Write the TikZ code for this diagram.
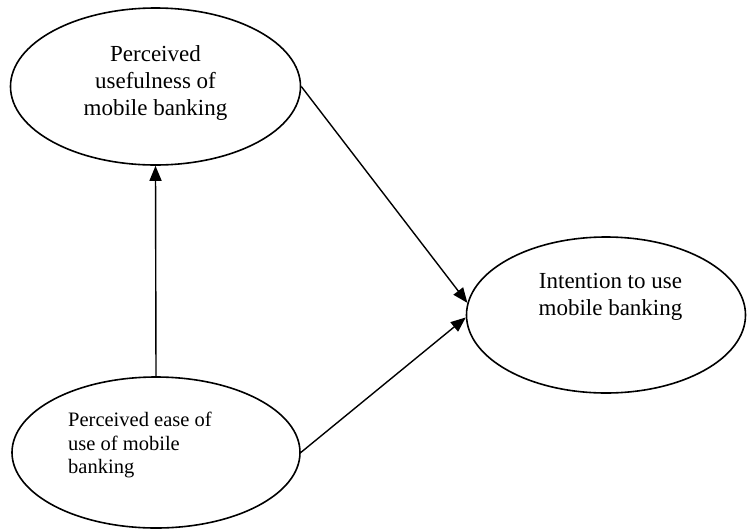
\documentclass[tikz,border=0pt]{standalone}
\usepackage{fontspec}
\setmainfont{Liberation Serif}
\usetikzlibrary{shapes.geometric,arrows.meta}
\begin{document}
\begin{tikzpicture}[x=1pt,y=-1pt,
  construct/.style={draw, ellipse, line width=1.6pt, inner sep=0pt},
  bigtext/.style={inner sep=0pt, font=\fontsize{23}{27}\selectfont, align=center},
  smalltext/.style={inner sep=0pt, font=\fontsize{20.5}{23.3}\selectfont, align=left, anchor=west},
  link/.style={line width=1.4pt, -{Triangle[length=15pt,width=12pt]}}]
  \useasboundingbox (0,0) rectangle (747,531);

  % constructs
  \node[construct, minimum width=290pt, minimum height=157pt] (pu) at (155.5,86.5) {};
  \node[construct, minimum width=279pt, minimum height=156pt] (iu) at (606,315) {};
  \node[construct, minimum width=288pt, minimum height=151pt] (pe) at (156,452.5) {};

  % labels
  \node[bigtext] (pulab) at (155.5,82.7) {Perceived\\usefulness of\\mobile banking};
  \node[bigtext] (iulab) at (610.5,297) {Intention to use\\mobile banking};
  \node[smalltext] (pelab) at (68,445) {Perceived ease of\\use of mobile\\banking};

  % paths
  \draw[link] (pe.north) -- (pu.south);
  \draw[link] (pu.east) -- (iu.175);
  \draw[link] (pe.east) -- (iu.181);
\end{tikzpicture}
\end{document}
